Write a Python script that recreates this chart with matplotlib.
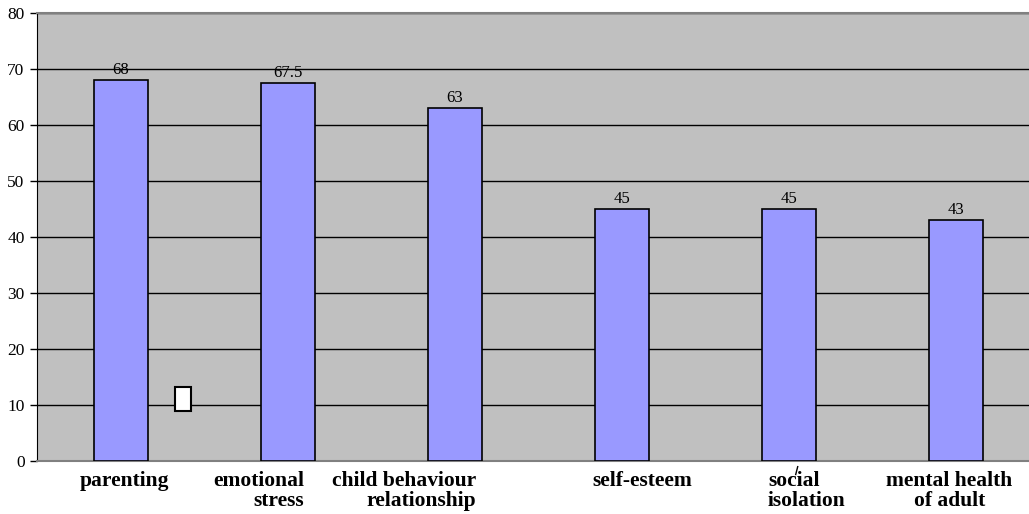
import matplotlib
matplotlib.use("Agg")
import matplotlib.pyplot as plt
from matplotlib.patches import Rectangle

categories = ["parenting", "emotional\nstress", "child behaviour\nrelationship",
              "self-esteem", "social\nisolation", "mental health\nof adult"]
values = [68, 67.5, 63, 45, 45, 43]
value_labels = ["68", "67.5", "63", "45", "45", "43"]
yticks = [0, 10, 20, 30, 40, 50, 60, 70, 80]

plt.rcParams["font.family"] = ["Liberation Serif", "DejaVu Serif"]

fig = plt.figure(figsize=(10.29, 5.14), dpi=100)
ax = fig.add_axes([0.036, 0.103, 0.964, 0.872])
ax.set_facecolor("#C0C0C0")

x = list(range(len(categories)))
ax.bar(x, values, width=0.323, color="#9999FF", edgecolor="black",
       linewidth=1.2, zorder=3)
for xi, v, lab in zip(x, values, value_labels):
    ax.text(xi, v + 0.4, lab, ha="center", va="bottom", fontsize=12, zorder=4)

ax.set_xlim(-0.503, 5.437)
ax.set_ylim(0, 80)
ax.set_yticks(yticks)
ax.tick_params(axis="y", labelsize=12.5, length=5, width=1, direction="out", pad=4)
ax.set_xticks([])
ax.yaxis.grid(True, color="black", linewidth=1, zorder=1)
ax.set_axisbelow(True)

for side in ["top", "bottom"]:
    ax.spines[side].set_color("#808080")
    ax.spines[side].set_linewidth(1.5)
ax.spines["right"].set_visible(False)
ax.spines["left"].set_color("black")

# category labels, placed as in the original (irregular alignment)
label_pos = [(0.018, "center"), (1.096, "right"), (2.126, "right"),
             (3.12, "center"), (3.874, "left"), (4.961, "center")]
for (px, ha), cat in zip(label_pos, categories):
    ax.text(px, -1.8, cat, ha=ha, va="top", fontsize=15.5, fontweight="bold",
            linespacing=1.0, multialignment=ha, clip_on=False)

# stray white box in the original
ax.add_patch(Rectangle((0.323, 8.9), 0.096, 4.3, facecolor="white",
                       edgecolor="black", linewidth=1.5, zorder=4))
# stray mark over "social"
ax.plot([4.052, 4.040], [-1.0, -2.4], color="black", linewidth=1, clip_on=False)

fig.savefig("out.png", dpi=100)
